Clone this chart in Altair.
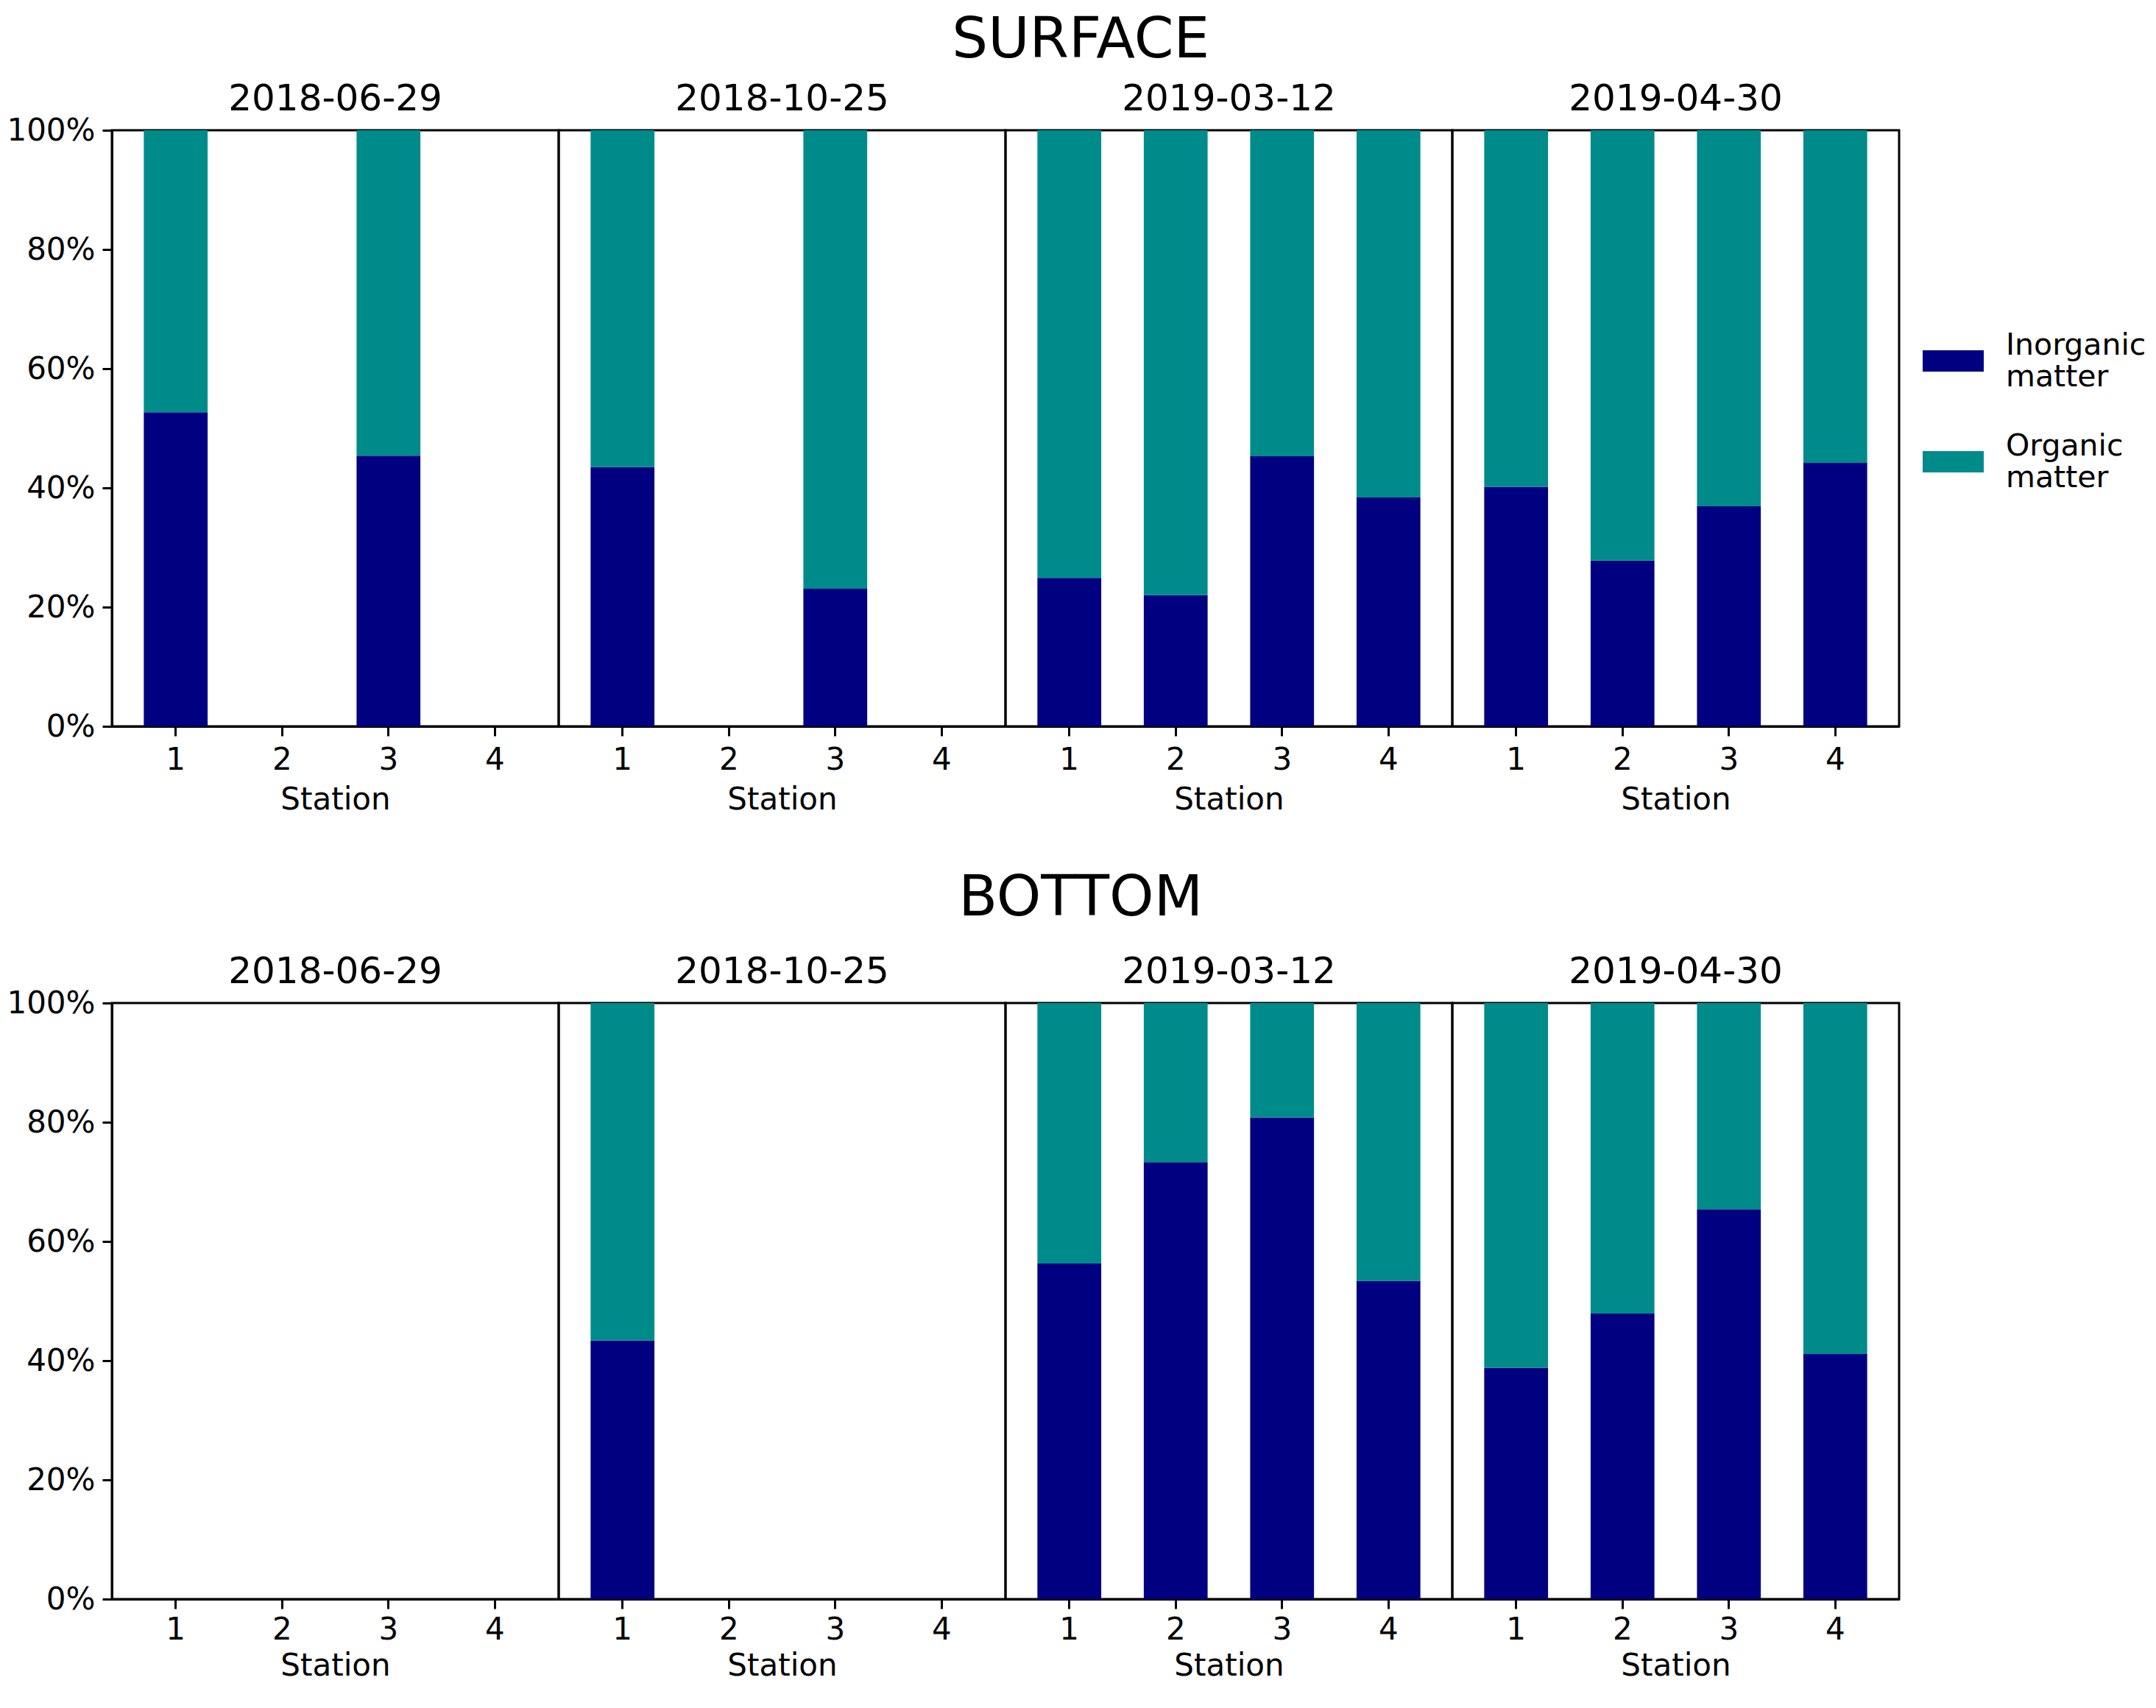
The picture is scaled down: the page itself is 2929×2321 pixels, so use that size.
import altair as alt
import pandas as pd

dates = ["2018-06-29", "2018-10-25", "2019-03-12", "2019-04-30"]
stations = [1, 2, 3, 4]
components = ["Inorganic matter", "Organic matter"]
colors = ["navy", "darkcyan"]

# inorganic share (%) per date (rows) and station (columns); None = no sample
surface_inorganic = [
    [52.7, None, 45.4, None],
    [43.5, None, 23.1, None],
    [24.9, 22.0, 45.3, 38.4],
    [40.2, 27.8, 36.9, 44.2],
]
bottom_inorganic = [
    [None, None, None, None],
    [43.4, None, None, None],
    [56.3, 73.3, 80.8, 53.4],
    [38.8, 47.9, 65.4, 41.1],
]


def build(table):
    rows = []
    for d, vals in zip(dates, table):
        for s, v in zip(stations, vals):
            inorg = 0.0 if v is None else v
            org = 0.0 if v is None else 100.0 - v
            rows.append({"Date": d, "Station": s, "Component": components[0], "Value": inorg, "Order": 0})
            rows.append({"Date": d, "Station": s, "Component": components[1], "Value": org, "Order": 1})
    return pd.DataFrame(rows)


FONT = "DejaVu Sans"


def panel(df, title, title_offset, label_pad, title_pad):
    base = alt.Chart(df).mark_bar().encode(
        x=alt.X(
            "Station:O",
            scale=alt.Scale(domain=stations, paddingInner=0.4, paddingOuter=0.3),
            axis=alt.Axis(title="Station", labelAngle=0, labelPadding=label_pad, titlePadding=title_pad),
        ),
        y=alt.Y(
            "Value:Q",
            stack="zero",
            scale=alt.Scale(domain=[0, 100], nice=False),
            axis=alt.Axis(values=[0, 20, 40, 60, 80, 100], labelExpr="datum.value + '%'",
                          title=None, grid=False, labelPadding=10),
        ),
        color=alt.Color(
            "Component:N",
            scale=alt.Scale(domain=components, range=colors),
            legend=alt.Legend(
                title=None,
                orient="none",
                legendX=2460,
                legendY=272,
                labelFontSize=41,
                labelFont=FONT,
                labelColor="black",
                labelBaseline="bottom",
                labelExpr="split(datum.label, ' ')",
                symbolType="M-1,-0.35L1,-0.35L1,0.35L-1,0.35Z",
                symbolSize=6889,
                symbolStrokeWidth=0,
                symbolOpacity=1,
                labelOffset=30,
                rowPadding=52,
                labelLimit=210,
            ),
        ),
        order=alt.Order("Order:Q"),
    ).properties(width=607, height=810)

    return base.facet(
        column=alt.Column(
            "Date:O",
            sort=dates,
            header=alt.Header(title=None, labelFontSize=50, labelFont=FONT,
                              labelColor="black", labelPadding=17),
        ),
        spacing=0,
        bounds="flush",
        title=alt.TitleParams(title, fontSize=77, font=FONT, fontWeight="normal",
                              color="black", anchor="middle", offset=title_offset, dx=173),
    )


top = panel(build(surface_inorganic), "SURFACE", 16, 12, 13)
bottom = panel(build(bottom_inorganic), "BOTTOM", 36, 8, 8)

chart = alt.vconcat(top, bottom, spacing=75).properties(
    padding={"left": 0, "top": 8, "right": 0, "bottom": 0}
).configure_view(
    stroke="black", strokeWidth=3
).configure_axis(
    domainColor="black", domainWidth=3, tickColor="black", tickWidth=3, tickSize=13,
    labelFontSize=42, titleFontSize=42, labelFont=FONT, titleFont=FONT,
    labelColor="black", titleColor="black", titleFontWeight="normal",
).configure_title(
    font=FONT
)

chart.save("out.html", embed_options={"renderer": "svg", "actions": False})
